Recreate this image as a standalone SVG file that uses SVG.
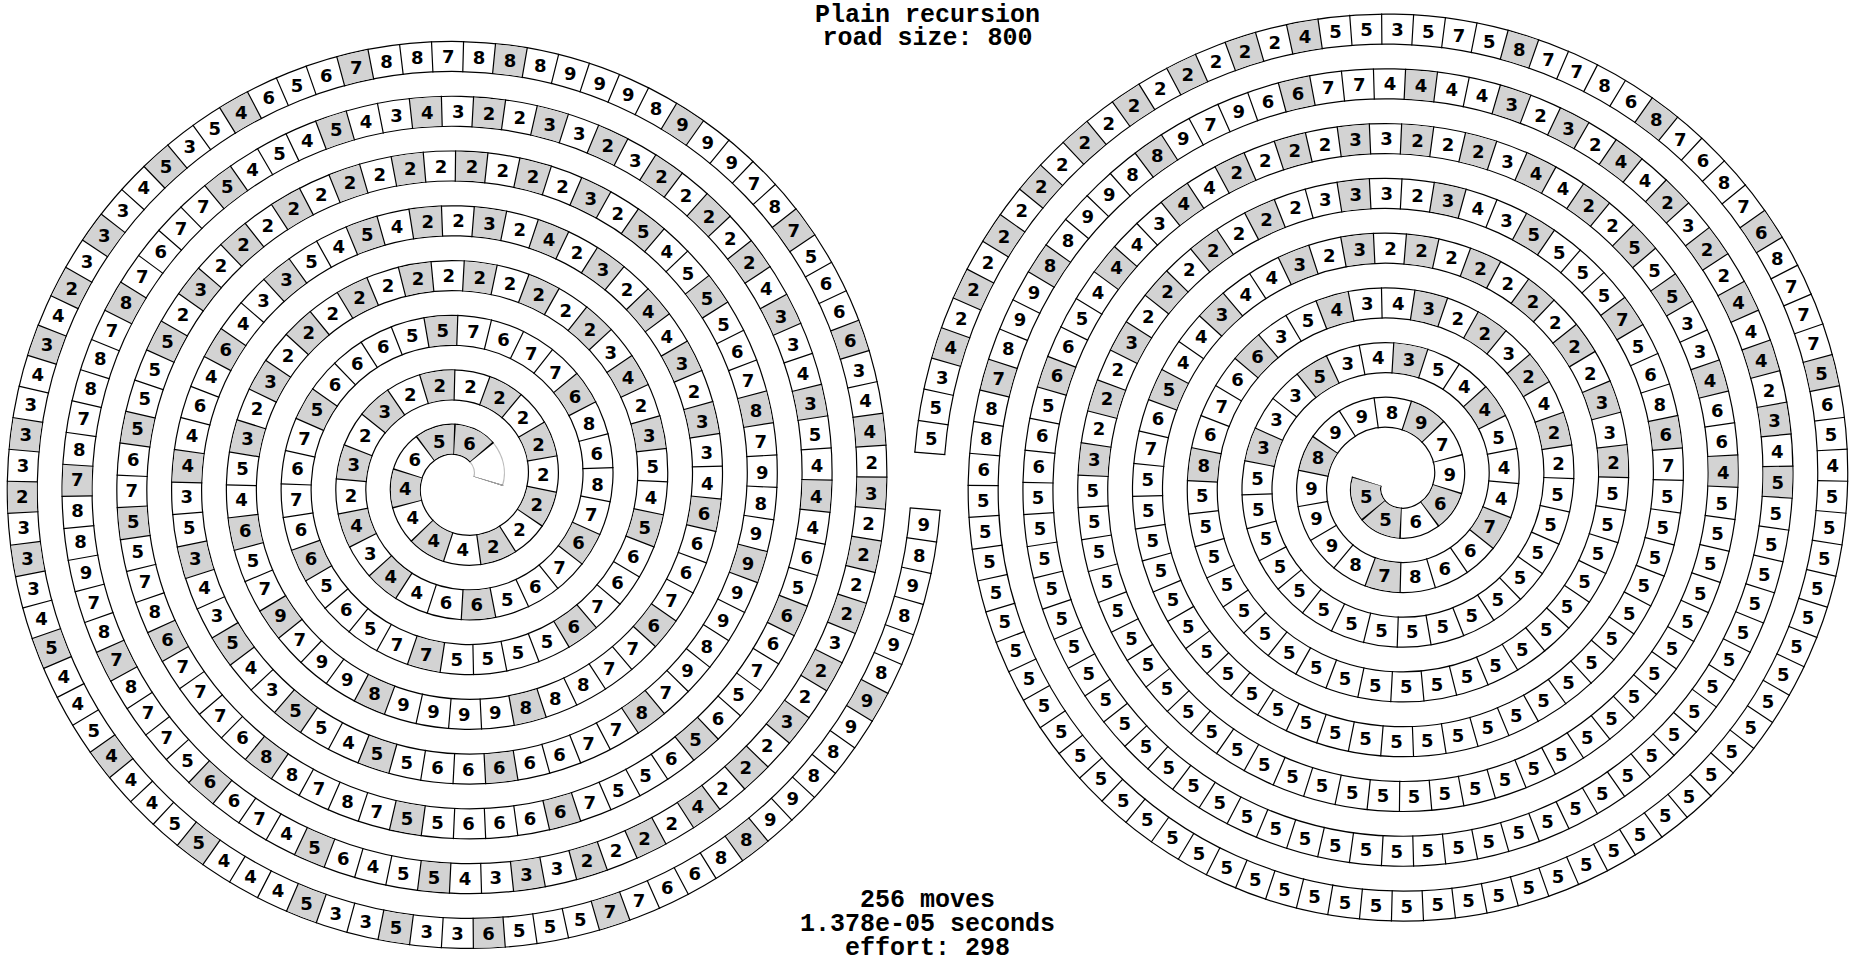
<svg xmlns="http://www.w3.org/2000/svg" width="1855" height="962" viewBox="0 0 1855 962">
<style>
text{font-family:"DejaVu Sans",sans-serif;font-weight:bold;font-size:18px;text-anchor:middle;fill:#000}
.hd text{font-family:"Liberation Mono","Courier New",monospace;font-size:25px}
.s use{fill:none}
.ol{stroke:#000;stroke-width:31.2}
.lg{stroke:#bbb;stroke-width:31.2}
.wh{stroke:#fff;stroke-width:28.8;stroke-dasharray:400 9}
.gr{stroke:#d3d3d3;stroke-width:28.8}
.tk{stroke:#000;stroke-width:31.2;stroke-dasharray:.0388 .9612;stroke-dashoffset:.0194}
.t text{--n:calc(var(--m)*10 + var(--j));--K:calc(11.7197 + 7.0972*(var(--n) + 0.5));--T:sqrt(var(--K) - 0.6931 - 0.5*log(var(--K)));transform:rotate(calc((var(--o) - var(--T))*1rad)) translate(calc(var(--T)*8.72169px),0px) rotate(calc((var(--T) - var(--o))*1rad)) translate(0px,6.5px)}
.t text:nth-child(1){--j:0}.t text:nth-child(2){--j:1}.t text:nth-child(3){--j:2}.t text:nth-child(4){--j:3}.t text:nth-child(5){--j:4}
.t text:nth-child(6){--j:5}.t text:nth-child(7){--j:6}.t text:nth-child(8){--j:7}.t text:nth-child(9){--j:8}.t text:nth-child(10){--j:9}
</style>
<defs>
<path id="sp" pathLength="400.9" d="M27.4,0C32.22,-15.13 22.7,-36.28 0,-41.1C-22.7,-45.92 -49.98,-30.26 -54.8,0C-59.62,30.26 -37.83,63.68 0,68.5C37.83,73.32 77.38,45.4 82.2,0C87.02,-45.4 52.96,-91.08 0,-95.9C-52.96,-100.72 -104.78,-60.53 -109.6,0C-114.42,60.53 -68.09,118.48 0,123.3C68.09,128.12 132.18,75.66 137,0C141.82,-75.66 83.23,-145.88 0,-150.7C-83.23,-155.52 -159.58,-90.79 -164.4,0C-169.22,90.79 -98.36,173.28 0,178.1C98.36,182.92 186.98,105.92 191.8,0C196.62,-105.92 113.49,-200.68 0,-205.5C-113.49,-210.32 -214.38,-121.06 -219.2,0C-224.02,121.06 -128.62,228.08 0,232.9C128.62,237.72 241.78,136.19 246.6,0C251.42,-136.19 143.75,-255.48 0,-260.3C-143.75,-265.12 -269.18,-151.32 -274,0C-278.82,151.32 -158.89,282.88 0,287.7C158.89,292.52 296.58,166.45 301.4,0C306.22,-166.45 174.02,-310.28 0,-315.1C-174.02,-319.92 -323.98,-181.58 -328.8,0C-333.62,181.58 -189.15,337.68 0,342.5C189.15,347.32 351.38,196.72 356.2,0C361.02,-196.72 204.28,-365.08 0,-369.9C-204.28,-374.72 -378.78,-211.85 -383.6,0C-388.42,211.85 -219.41,392.48 0,397.3C219.41,402.12 406.18,226.98 411,0C415.82,-226.98 234.55,-419.88 0,-424.7C-234.55,-429.52 -433.58,-242.11 -438.4,0C-443.22,242.11 -249.68,447.28 0,452.1C249.68,456.92 460.98,257.24 465.8,0"/>
</defs>
<g id="left-spiral" class="s" transform="translate(460.75,481.25)">
<use href="#sp" class="ol" style="stroke-dasharray:0 1 399 9"/>
<use href="#sp" class="lg" style="stroke-dasharray:1 999"/>
<use href="#sp" class="wh"/>
<use href="#sp" class="gr" style="stroke-dasharray:0 1 2 1 1 1 1 1 1 1 1 1 1 1 1 1 1 1 1 1 1 1 1 1 1 2 1 3 1 4 1 4 1 4 1 4 1 4 1 4 1 3 1 2 1 1 1 1 1 1 1 1 1 1 1 1 1 1 1 1 1 1 1 2 1 2 1 3 1 4 1 4 1 3 1 2 1 1 1 1 1 1 1 1 1 1 1 1 1 1 1 2 1 2 1 3 1 2 1 2 1 2 1 2 1 3 1 4 1 5 1 4 1 3 1 2 1 1 1 1 1 1 1 1 1 1 1 1 1 1 1 1 1 1 1 2 1 2 1 3 1 4 1 4 1 4 1 4 1 4 1 3 1 2 1 2 1 1 1 1 1 1 1 1 1 1 1 1 1 1 1 2 1 3 1 4 1 5 1 5 1 4 1 3 1 3 1 2 1 1 1 1 1 1 1 1 1 1 1 1 1 1 1 1 1 1 1 1 1 2 1 3 1 4 1 5 1 4 1 3 1 2 1 2 1 1 1 1 1 2 1 1 1 1 1 2 1 3 1 3 1 3 1 2 1 2 1 3 1 4 1 5 1 99"/>
<use href="#sp" class="tk"/>
<use href="#sp" class="lg" style="stroke-dasharray:.02 999"/>
</g>
<g id="right-spiral" class="s" transform="translate(1394.25,481.25) rotate(180)">
<use href="#sp" class="ol" style="stroke-dasharray:400 9"/>
<use href="#sp" class="wh"/>
<use href="#sp" class="gr" style="stroke-dasharray:2 1 1 2 1 3 1 4 1 3 1 3 1 2 1 2 1 2 1 17 1 1 1 1 1 1 1 2 1 2 1 3 1 21 1 1 1 1 1 1 1 1 1 1 1 1 1 1 1 2 1 2 1 30 1 3 1 3 1 2 1 2 1 2 1 1 1 1 1 1 1 1 1 1 1 32 1 2 1 2 1 1 1 1 1 1 1 1 1 1 1 1 1 1 1 1 1 1 1 2 1 3 1 40 1 1 1 1 1 1 1 1 1 1 1 1 1 1 1 1 1 2 1 3 1 4 1 4 1 3 1 49 1 4 1 4 1 4 1 6 1 1 1 1 1 1 1 1 1 1 1 1 1 1 1 1 1 99"/>
<use href="#sp" class="tk"/>
</g>
<g id="left-digits" class="t" style="--o:3.14159" transform="translate(460.75,481.25)">
<g style="--m:0"><text></text><text>6</text><text>5</text><text>6</text><text>4</text><text>4</text><text>4</text><text>4</text><text>2</text><text>2</text></g>
<g style="--m:1"><text>2</text><text>2</text><text>2</text><text>2</text><text>2</text><text>2</text><text>2</text><text>2</text><text>3</text><text>2</text></g>
<g style="--m:2"><text>3</text><text>2</text><text>4</text><text>3</text><text>4</text><text>4</text><text>6</text><text>6</text><text>5</text><text>6</text></g>
<g style="--m:3"><text>7</text><text>6</text><text>7</text><text>8</text><text>6</text><text>8</text><text>6</text><text>7</text><text>7</text><text>6</text></g>
<g style="--m:4"><text>7</text><text>5</text><text>5</text><text>6</text><text>6</text><text>6</text><text>5</text><text>7</text><text>6</text><text>7</text></g>
<g style="--m:5"><text>6</text><text>6</text><text>5</text><text>6</text><text>5</text><text>7</text><text>7</text><text>5</text><text>5</text><text>5</text></g>
<g style="--m:6"><text>5</text><text>6</text><text>7</text><text>6</text><text>6</text><text>5</text><text>4</text><text>5</text><text>3</text><text>2</text></g>
<g style="--m:7"><text>4</text><text>3</text><text>2</text><text>2</text><text>2</text><text>2</text><text>2</text><text>2</text><text>2</text><text>2</text></g>
<g style="--m:8"><text>2</text><text>2</text><text>2</text><text>2</text><text>3</text><text>2</text><text>3</text><text>5</text><text>4</text><text>6</text></g>
<g style="--m:9"><text>5</text><text>7</text><text>9</text><text>7</text><text>9</text><text>9</text><text>8</text><text>9</text><text>9</text><text>9</text></g>
<g style="--m:10"><text>9</text><text>8</text><text>8</text><text>8</text><text>7</text><text>7</text><text>6</text><text>7</text><text>6</text><text>6</text></g>
<g style="--m:11"><text>6</text><text>4</text><text>3</text><text>3</text><text>2</text><text>3</text><text>4</text><text>4</text><text>2</text><text>3</text></g>
<g style="--m:12"><text>2</text><text>4</text><text>2</text><text>3</text><text>2</text><text>2</text><text>4</text><text>5</text><text>4</text><text>5</text></g>
<g style="--m:13"><text>3</text><text>3</text><text>4</text><text>6</text><text>4</text><text>6</text><text>4</text><text>4</text><text>3</text><text>5</text></g>
<g style="--m:14"><text>3</text><text>4</text><text>3</text><text>5</text><text>4</text><text>3</text><text>5</text><text>5</text><text>4</text><text>5</text></g>
<g style="--m:15"><text>5</text><text>6</text><text>6</text><text>6</text><text>6</text><text>6</text><text>7</text><text>7</text><text>8</text><text>7</text></g>
<g style="--m:16"><text>9</text><text>8</text><text>9</text><text>9</text><text>9</text><text>9</text><text>8</text><text>9</text><text>7</text><text>8</text></g>
<g style="--m:17"><text>7</text><text>6</text><text>5</text><text>5</text><text>5</text><text>4</text><text>5</text><text>2</text><text>3</text><text>2</text></g>
<g style="--m:18"><text>2</text><text>2</text><text>2</text><text>2</text><text>2</text><text>2</text><text>2</text><text>2</text><text>2</text><text>2</text></g>
<g style="--m:19"><text>2</text><text>2</text><text>3</text><text>2</text><text>5</text><text>5</text><text>5</text><text>5</text><text>6</text><text>7</text></g>
<g style="--m:20"><text>5</text><text>5</text><text>7</text><text>8</text><text>6</text><text>7</text><text>7</text><text>7</text><text>6</text><text>8</text></g>
<g style="--m:21"><text>8</text><text>7</text><text>8</text><text>7</text><text>5</text><text>5</text><text>6</text><text>6</text><text>6</text><text>6</text></g>
<g style="--m:22"><text>7</text><text>5</text><text>5</text><text>6</text><text>5</text><text>6</text><text>5</text><text>7</text><text>6</text><text>6</text></g>
<g style="--m:23"><text>5</text><text>6</text><text>4</text><text>4</text><text>4</text><text>5</text><text>3</text><text>4</text><text>3</text><text>3</text></g>
<g style="--m:24"><text>4</text><text>2</text><text>2</text><text>2</text><text>2</text><text>2</text><text>3</text><text>2</text><text>3</text><text>3</text></g>
<g style="--m:25"><text>2</text><text>2</text><text>3</text><text>4</text><text>3</text><text>4</text><text>5</text><text>4</text><text>5</text><text>4</text></g>
<g style="--m:26"><text>5</text><text>7</text><text>7</text><text>6</text><text>7</text><text>8</text><text>7</text><text>8</text><text>8</text><text>7</text></g>
<g style="--m:27"><text>8</text><text>7</text><text>8</text><text>8</text><text>9</text><text>7</text><text>8</text><text>7</text><text>8</text><text>7</text></g>
<g style="--m:28"><text>7</text><text>5</text><text>6</text><text>6</text><text>7</text><text>4</text><text>5</text><text>6</text><text>4</text><text>5</text></g>
<g style="--m:29"><text>5</text><text>4</text><text>3</text><text>3</text><text>3</text><text>2</text><text>2</text><text>2</text><text>2</text><text>4</text></g>
<g style="--m:30"><text>2</text><text>2</text><text>2</text><text>3</text><text>2</text><text>2</text><text>3</text><text>2</text><text>2</text><text>2</text></g>
<g style="--m:31"><text>2</text><text>3</text><text>2</text><text>4</text><text>4</text><text>3</text><text>6</text><text>6</text><text>6</text><text>5</text></g>
<g style="--m:32"><text>7</text><text>8</text><text>7</text><text>9</text><text>9</text><text>9</text><text>8</text><text>9</text><text>9</text><text>9</text></g>
<g style="--m:33"><text>8</text><text>8</text><text>8</text><text>7</text><text>8</text><text>8</text><text>7</text><text>6</text><text>5</text><text>6</text></g>
<g style="--m:34"><text>4</text><text>5</text><text>3</text><text>5</text><text>4</text><text>3</text><text>3</text><text>3</text><text>2</text><text>4</text></g>
<g style="--m:35"><text>3</text><text>4</text><text>3</text><text>3</text><text>3</text><text>2</text><text>3</text><text>3</text><text>3</text><text>4</text></g>
<g style="--m:36"><text>5</text><text>4</text><text>4</text><text>5</text><text>4</text><text>4</text><text>4</text><text>5</text><text>5</text><text>4</text></g>
<g style="--m:37"><text>4</text><text>4</text><text>5</text><text>3</text><text>3</text><text>5</text><text>3</text><text>3</text><text>6</text><text>5</text></g>
<g style="--m:38"><text>5</text><text>5</text><text>7</text><text>7</text><text>6</text><text>6</text><text>8</text><text>8</text><text>9</text><text>9</text></g>
<g style="--m:39"><text>8</text><text>8</text><text>9</text><text>9</text><text>8</text><text>9</text><text>8</text><text>9</text><text>8</text><text>9</text></g>
</g>
<g id="right-digits" class="t" style="--o:0" transform="translate(1394.25,481.25)">
<g style="--m:0"><text>5</text><text>5</text><text>6</text><text>6</text><text>9</text><text>7</text><text>9</text><text>8</text><text>9</text><text>9</text></g>
<g style="--m:1"><text>8</text><text>9</text><text>9</text><text>9</text><text>8</text><text>7</text><text>8</text><text>6</text><text>6</text><text>7</text></g>
<g style="--m:2"><text>4</text><text>4</text><text>5</text><text>4</text><text>4</text><text>5</text><text>3</text><text>4</text><text>3</text><text>5</text></g>
<g style="--m:3"><text>3</text><text>3</text><text>3</text><text>5</text><text>5</text><text>5</text><text>5</text><text>5</text><text>5</text><text>5</text></g>
<g style="--m:4"><text>5</text><text>5</text><text>5</text><text>5</text><text>5</text><text>5</text><text>5</text><text>5</text><text>5</text><text>2</text></g>
<g style="--m:5"><text>2</text><text>4</text><text>2</text><text>3</text><text>2</text><text>2</text><text>3</text><text>4</text><text>3</text><text>4</text></g>
<g style="--m:6"><text>5</text><text>3</text><text>6</text><text>6</text><text>7</text><text>6</text><text>8</text><text>5</text><text>5</text><text>5</text></g>
<g style="--m:7"><text>5</text><text>5</text><text>5</text><text>5</text><text>5</text><text>5</text><text>5</text><text>5</text><text>5</text><text>5</text></g>
<g style="--m:8"><text>5</text><text>5</text><text>5</text><text>5</text><text>5</text><text>5</text><text>5</text><text>5</text><text>2</text><text>3</text></g>
<g style="--m:9"><text>3</text><text>2</text><text>2</text><text>2</text><text>2</text><text>2</text><text>2</text><text>2</text><text>2</text><text>2</text></g>
<g style="--m:10"><text>3</text><text>2</text><text>3</text><text>4</text><text>4</text><text>3</text><text>4</text><text>4</text><text>5</text><text>6</text></g>
<g style="--m:11"><text>7</text><text>5</text><text>5</text><text>5</text><text>5</text><text>5</text><text>5</text><text>5</text><text>5</text><text>5</text></g>
<g style="--m:12"><text>5</text><text>5</text><text>5</text><text>5</text><text>5</text><text>5</text><text>5</text><text>5</text><text>5</text><text>5</text></g>
<g style="--m:13"><text>5</text><text>5</text><text>5</text><text>5</text><text>5</text><text>5</text><text>5</text><text>5</text><text>7</text><text>6</text></g>
<g style="--m:14"><text>8</text><text>6</text><text>5</text><text>7</text><text>5</text><text>5</text><text>5</text><text>5</text><text>3</text><text>4</text></g>
<g style="--m:15"><text>3</text><text>2</text><text>3</text><text>3</text><text>3</text><text>2</text><text>2</text><text>2</text><text>2</text><text>2</text></g>
<g style="--m:16"><text>2</text><text>2</text><text>3</text><text>2</text><text>2</text><text>2</text><text>3</text><text>5</text><text>5</text><text>5</text></g>
<g style="--m:17"><text>5</text><text>5</text><text>5</text><text>5</text><text>5</text><text>5</text><text>5</text><text>5</text><text>5</text><text>5</text></g>
<g style="--m:18"><text>5</text><text>5</text><text>5</text><text>5</text><text>5</text><text>5</text><text>5</text><text>5</text><text>5</text><text>5</text></g>
<g style="--m:19"><text>5</text><text>5</text><text>5</text><text>5</text><text>5</text><text>5</text><text>5</text><text>5</text><text>5</text><text>4</text></g>
<g style="--m:20"><text>6</text><text>6</text><text>4</text><text>3</text><text>3</text><text>5</text><text>5</text><text>5</text><text>2</text><text>2</text></g>
<g style="--m:21"><text>4</text><text>4</text><text>3</text><text>2</text><text>2</text><text>2</text><text>3</text><text>3</text><text>2</text><text>2</text></g>
<g style="--m:22"><text>2</text><text>2</text><text>4</text><text>4</text><text>3</text><text>4</text><text>4</text><text>4</text><text>5</text><text>6</text></g>
<g style="--m:23"><text>6</text><text>5</text><text>6</text><text>6</text><text>5</text><text>5</text><text>5</text><text>5</text><text>5</text><text>5</text></g>
<g style="--m:24"><text>5</text><text>5</text><text>5</text><text>5</text><text>5</text><text>5</text><text>5</text><text>5</text><text>5</text><text>5</text></g>
<g style="--m:25"><text>5</text><text>5</text><text>5</text><text>5</text><text>5</text><text>5</text><text>5</text><text>5</text><text>5</text><text>5</text></g>
<g style="--m:26"><text>5</text><text>5</text><text>5</text><text>5</text><text>5</text><text>5</text><text>5</text><text>5</text><text>5</text><text>5</text></g>
<g style="--m:27"><text>5</text><text>5</text><text>4</text><text>3</text><text>2</text><text>4</text><text>4</text><text>4</text><text>2</text><text>2</text></g>
<g style="--m:28"><text>3</text><text>2</text><text>4</text><text>4</text><text>2</text><text>3</text><text>2</text><text>3</text><text>4</text><text>4</text></g>
<g style="--m:29"><text>4</text><text>4</text><text>7</text><text>7</text><text>6</text><text>6</text><text>9</text><text>7</text><text>9</text><text>8</text></g>
<g style="--m:30"><text>8</text><text>9</text><text>9</text><text>8</text><text>8</text><text>9</text><text>9</text><text>8</text><text>7</text><text>8</text></g>
<g style="--m:31"><text>8</text><text>6</text><text>5</text><text>5</text><text>5</text><text>5</text><text>5</text><text>5</text><text>5</text><text>5</text></g>
<g style="--m:32"><text>5</text><text>5</text><text>5</text><text>5</text><text>5</text><text>5</text><text>5</text><text>5</text><text>5</text><text>5</text></g>
<g style="--m:33"><text>5</text><text>5</text><text>5</text><text>5</text><text>5</text><text>5</text><text>5</text><text>5</text><text>5</text><text>5</text></g>
<g style="--m:34"><text>5</text><text>5</text><text>5</text><text>5</text><text>5</text><text>5</text><text>5</text><text>5</text><text>5</text><text>5</text></g>
<g style="--m:35"><text>5</text><text>5</text><text>5</text><text>5</text><text>5</text><text>4</text><text>5</text><text>6</text><text>5</text><text>7</text></g>
<g style="--m:36"><text>7</text><text>7</text><text>8</text><text>6</text><text>7</text><text>8</text><text>6</text><text>7</text><text>8</text><text>6</text></g>
<g style="--m:37"><text>8</text><text>7</text><text>7</text><text>8</text><text>5</text><text>7</text><text>5</text><text>3</text><text>5</text><text>5</text></g>
<g style="--m:38"><text>4</text><text>2</text><text>2</text><text>2</text><text>2</text><text>2</text><text>2</text><text>2</text><text>2</text><text>2</text></g>
<g style="--m:39"><text>2</text><text>2</text><text>2</text><text>2</text><text>2</text><text>2</text><text>4</text><text>3</text><text>5</text><text>5</text></g>
</g>
<g id="header" class="hd">
<text x="927.5" y="21.7">Plain recursion</text>
<text x="927.5" y="45">road size: 800</text>
</g>
<g id="footer" class="hd">
<text x="927.5" y="907">256 moves</text>
<text x="927.5" y="931">1.378e-05 seconds</text>
<text x="927.5" y="955">effort: 298</text>
</g>
</svg>
